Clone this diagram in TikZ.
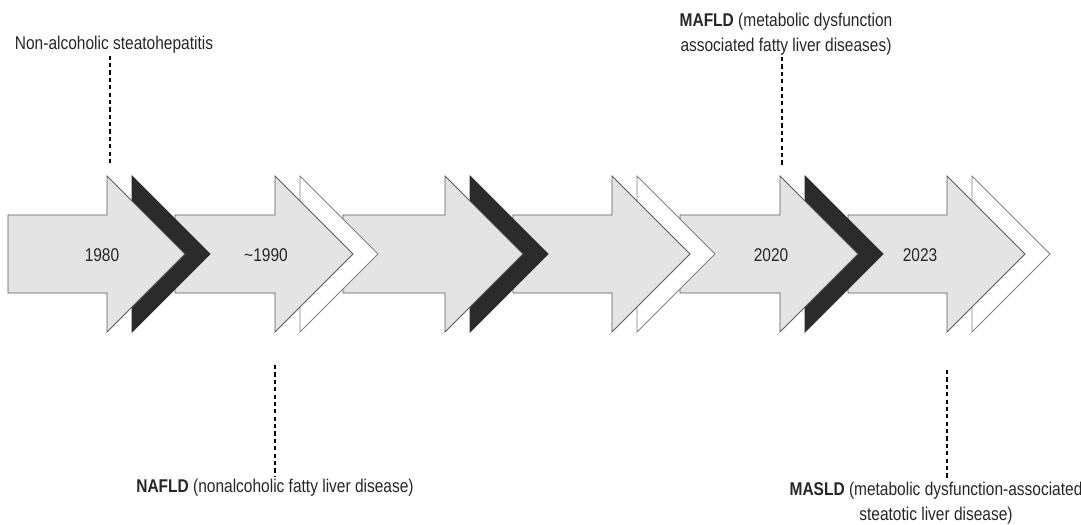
\documentclass[tikz,border=0pt]{standalone}
\usepackage{fontspec}
\setmainfont{Liberation Sans}[FakeStretch=0.84]
\usetikzlibrary{positioning}
\definecolor{arrowfill}{HTML}{E4E4E4}
\definecolor{darkchev}{HTML}{2B2B2B}
\definecolor{edgegray}{HTML}{5A5A5A}
\tikzset{
  arrowbox/.style={fill=arrowfill,draw=edgegray,line width=.5pt,line join=miter},
  guide/.style={draw=black,line width=.6pt,dash pattern=on 2.4pt off 1.8pt},
  label/.style={font=\fontsize{10.5}{14}\selectfont,text=black!85,inner sep=1pt}
}

\begin{document}
\begin{tikzpicture}[x=.02cm,y=-.02cm]
\useasboundingbox (0,0) rectangle (1081,524);
% right to left, so every head lies over the chevron and body after it
\foreach \l/\h/\c/\e in {848/947/white/gray,680/780/darkchev/darkchev,513/612/white/gray,
                         343/445/darkchev/darkchev,175/275/white/gray,8/107/darkchev/darkchev}{
  \draw[fill=\c,draw=\e,line width=.5pt] (\h+25,176) -- (\h+103,254) -- (\h+25,332) -- cycle;
  \draw[arrowbox] (\l,215) -- (\h,215) -- (\h,176) -- (\h+78,254) -- (\h,332) -- (\h,293) -- (\l,293) -- cycle;
}
\node[label] (y1980) at (102,255) {1980};
\node[label] (y1990) at (266,255) {\textasciitilde1990};
\node[label] (y2020) at (771,255) {2020};
\node[label] (y2023) at (920,255) {2023};

\node[label] (nash) at (114,45) {Non-alcoholic steatohepatitis};
\node[label,align=center] (mafld) at (786,34) {\textbf{MAFLD} (metabolic dysfunction\\associated fatty liver diseases)};
\node[label] (nafld) at (275,488) {\textbf{NAFLD} (nonalcoholic fatty liver disease)};
\node[label,align=center] (masld) at (936,503) {\textbf{MASLD} (metabolic dysfunction-associated\\steatotic liver disease)};

\coordinate (d1) at (110,165);
\coordinate (d2) at (275,365);
\coordinate (d3) at (782,165);
\coordinate (d4) at (947,370);
\draw[guide] (nash.south -| d1) -- (d1);
\draw[guide] (d2) -- (nafld.north -| d2);
\draw[guide] (mafld.south -| d3) -- (d3);
\draw[guide] (d4) -- (masld.north -| d4);
\end{tikzpicture}
\end{document}
